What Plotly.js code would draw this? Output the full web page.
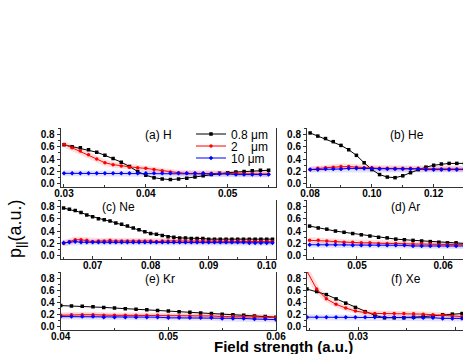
<!DOCTYPE html>
<html><head><meta charset="utf-8">
<script src="https://cdn.plot.ly/plotly-3.0.1.min.js"></script>
<style>html,body{margin:0;padding:0;background:#fff}#chart{width:463px;height:354px}</style>
</head><body><div id="chart"></div>
<script>
// ---- data ----
const seriesNames = ["0.8\u00a0\u03bcm", "2\u00a0\u00a0\u00a0\u00a0\u03bcm", "10\u00a0\u03bcm"];
const panelLabels = ["(a) H", "(b) He", "(c) Ne", "(d) Ar", "(e) Kr", "(f) Xe"];

const xH = [0.030,0.031,0.032,0.033,0.034,0.035,0.036,0.037,0.038,0.039,0.040,0.041,0.042,0.043,0.044,0.045,0.046,0.047,0.048,0.049,0.050,0.051,0.052,0.053,0.054,0.055];
const hBlack = [0.63,0.60,0.58,0.55,0.51,0.46,0.41,0.35,0.28,0.20,0.14,0.10,0.08,0.07,0.08,0.09,0.11,0.13,0.15,0.17,0.18,0.19,0.20,0.21,0.22,0.22];
const hRed   = [0.64,0.58,0.53,0.47,0.40,0.34,0.31,0.29,0.27,0.26,0.25,0.23,0.21,0.19,0.18,0.17,0.17,0.17,0.17,0.17,0.17,0.17,0.16,0.16,0.16,0.16];
const hBlue  = [0.17,0.17,0.17,0.17,0.17,0.17,0.17,0.17,0.17,0.17,0.17,0.17,0.17,0.17,0.17,0.17,0.17,0.17,0.16,0.16,0.16,0.15,0.15,0.15,0.15,0.15];

const xHe = [0.080,0.0825,0.085,0.0875,0.090,0.0925,0.095,0.0975,0.100,0.1025,0.105,0.1075,0.110,0.1125,0.115,0.1175,0.120,0.1225,0.125,0.1275,0.130];
const heBlack = [0.82,0.77,0.73,0.68,0.62,0.55,0.46,0.34,0.23,0.15,0.11,0.10,0.13,0.18,0.23,0.27,0.30,0.32,0.33,0.33,0.33];
const heRed   = [0.23,0.25,0.26,0.27,0.28,0.28,0.27,0.26,0.26,0.25,0.25,0.25,0.25,0.25,0.25,0.24,0.24,0.24,0.24,0.24,0.24];
const heBlue  = [0.23,0.23,0.24,0.24,0.24,0.25,0.25,0.25,0.25,0.24,0.24,0.24,0.24,0.24,0.24,0.23,0.23,0.23,0.23,0.23,0.23];

const xNe = [0.065,0.066,0.067,0.068,0.069,0.070,0.071,0.072,0.073,0.074,0.075,0.076,0.077,0.078,0.079,0.080,0.081,0.082,0.083,0.084,0.085,0.086,0.087,0.088,0.089,0.090,0.091,0.092,0.093,0.094,0.095,0.096,0.097,0.098,0.099,0.100,0.101];
const neBlack = [0.77,0.75,0.73,0.70,0.66,0.63,0.60,0.58,0.56,0.53,0.51,0.48,0.45,0.42,0.39,0.36,0.35,0.33,0.31,0.30,0.29,0.29,0.28,0.28,0.28,0.27,0.27,0.27,0.27,0.27,0.27,0.27,0.27,0.27,0.27,0.27,0.27];
const neRed   = [0.20,0.23,0.26,0.26,0.25,0.23,0.24,0.24,0.25,0.24,0.24,0.24,0.24,0.24,0.24,0.24,0.23,0.24,0.24,0.24,0.24,0.24,0.23,0.24,0.24,0.23,0.24,0.23,0.24,0.23,0.24,0.23,0.24,0.23,0.23,0.23,0.23];
const neBlue  = [0.21,0.22,0.23,0.22,0.22,0.22,0.22,0.22,0.22,0.22,0.22,0.22,0.22,0.22,0.22,0.22,0.22,0.22,0.22,0.22,0.22,0.22,0.22,0.22,0.22,0.22,0.22,0.22,0.22,0.22,0.22,0.22,0.21,0.21,0.21,0.21,0.21];

const xAr = [0.0445,0.0455,0.0465,0.0475,0.0485,0.0495,0.0505,0.0515,0.0525,0.0535,0.0545,0.0555,0.0565,0.0575,0.0585,0.0595,0.0605,0.0615,0.0625];
const arBlack = [0.48,0.45,0.43,0.40,0.38,0.36,0.34,0.32,0.30,0.29,0.27,0.26,0.25,0.24,0.23,0.22,0.21,0.21,0.20];
const arRed   = [0.25,0.25,0.24,0.23,0.22,0.22,0.21,0.21,0.20,0.20,0.20,0.19,0.19,0.19,0.19,0.18,0.18,0.18,0.18];
const arBlue  = [0.18,0.18,0.18,0.18,0.18,0.17,0.17,0.17,0.17,0.17,0.17,0.17,0.16,0.16,0.16,0.16,0.16,0.16,0.16];

const xKr = [0.040,0.041,0.042,0.043,0.044,0.045,0.046,0.047,0.048,0.049,0.050,0.051,0.052,0.053,0.054,0.055,0.056,0.057,0.058,0.059,0.060];
const krBlack = [0.35,0.345,0.34,0.33,0.32,0.31,0.30,0.29,0.28,0.27,0.26,0.25,0.24,0.23,0.22,0.21,0.20,0.19,0.18,0.17,0.16];
const krRed   = [0.19,0.20,0.20,0.20,0.19,0.19,0.19,0.19,0.19,0.19,0.18,0.18,0.18,0.18,0.18,0.17,0.17,0.17,0.17,0.16,0.15];
const krBlue  = [0.17,0.17,0.17,0.17,0.16,0.16,0.16,0.16,0.16,0.16,0.15,0.15,0.15,0.15,0.15,0.14,0.14,0.14,0.13,0.13,0.12];

const xXe = [0.0247,0.0257,0.0267,0.0277,0.0287,0.0297,0.0307,0.0317,0.0327,0.0337,0.0347,0.0357,0.0367,0.0377,0.0387,0.0397,0.0407];
const xeBlack = [0.62,0.58,0.53,0.46,0.39,0.32,0.25,0.19,0.15,0.15,0.15,0.16,0.17,0.18,0.20,0.21,0.22];
const xeRed   = [0.91,0.62,0.46,0.37,0.31,0.26,0.235,0.22,0.22,0.22,0.22,0.215,0.21,0.20,0.19,0.18,0.17];
const xeBlue  = [0.16,0.16,0.16,0.16,0.16,0.16,0.16,0.16,0.16,0.16,0.15,0.15,0.15,0.15,0.14,0.14,0.14];

// ---- build ----
const panels = [
  {x:xH,  s:[hBlack,hRed,hBlue]},
  {x:xHe, s:[heBlack,heRed,heBlue]},
  {x:xNe, s:[neBlack,neRed,neBlue]},
  {x:xAr, s:[arBlack,arRed,arBlue]},
  {x:xKr, s:[krBlack,krRed,krBlue]},
  {x:xXe, s:[xeBlack,xeRed,xeBlue]}
];
const colors = ["#000000","#ff0000","#0000ff"];
const bands = [null,"rgba(255,0,0,0.13)","rgba(0,0,255,0.11)"];
const symbols = ["square","circle","diamond"];
const legendIds = ["legend","legend2","legend3"];
const traces = [];
panels.forEach((p,i)=>{
  const xa = i===0 ? "x" : "x"+(i+1);
  const ya = i===0 ? "y" : "y"+(i+1);
  p.s.forEach((vals,k)=>{
    if (bands[k]) traces.push({x:p.x,y:vals,xaxis:xa,yaxis:ya,mode:"lines",
      line:{color:bands[k],width:6},showlegend:false,hoverinfo:"skip"});
  });
  p.s.forEach((vals,k)=>{
    traces.push({x:p.x,y:vals,xaxis:xa,yaxis:ya,mode:"lines+markers",name:seriesNames[k],
      legend:legendIds[k],
      line:{color:colors[k],width:1},marker:{color:colors[k],symbol:symbols[k],size:3.5},
      showlegend:i===0});
  });
});

const W=463,H=354;
const colX = [[60.7/W,276/W],[307/W,1]];
const rowY = [[1-187/H,1-128/H],[1-259/H,1-200/H],[1-330/H,1-272/H]];
const xRanges = [[0.0296,0.0559],[0.079,0.1295],[0.0645,0.1016],[0.0442,0.0623],[0.04,0.06],[0.0247,0.0408]];
const xDticks = [0.01,0.02,0.01,0.01,0.01,0.01];
const font = "Arial, 'Liberation Sans', sans-serif";
const legRowY = [134,146,158];
const layout = {
  width:W,height:H,margin:{l:0,r:0,t:0,b:0},paper_bgcolor:"#fff",plot_bgcolor:"#fff",
  font:{family:font,color:"#000",size:10},
  showlegend:true,
  annotations:[],
};
legendIds.forEach((id,k)=>{
  layout[id] = {x:191/W,y:1-legRowY[k]/H,xanchor:"left",yanchor:"middle",bgcolor:"rgba(0,0,0,0)",
    font:{size:12,family:font},itemwidth:30,tracegroupgap:0};
});
for (let i=0;i<6;i++){
  const col=i%2,row=Math.floor(i/2);
  const sx = i===0?"":String(i+1);
  layout["xaxis"+sx] = {domain:colX[col],range:xRanges[i],anchor:"y"+sx,
    showline:true,linecolor:"#333",linewidth:1,mirror:false,showgrid:false,zeroline:false,
    ticks:"inside",ticklen:3,tickcolor:"#333",dtick:xDticks[i],tickformat:".2f",
    ticklabelstandoff:-3,
    tickfont:{size:10,weight:"bold"},minor:{ticks:"inside",ticklen:2,dtick:xDticks[i]/2,tickcolor:"#333"}};
  layout["yaxis"+sx] = {domain:rowY[row],range:[-0.05,0.9],anchor:"x"+sx,
    showline:true,linecolor:"#333",linewidth:1,mirror:true,showgrid:false,zeroline:false,
    ticks:"outside",ticklen:3,tickcolor:"#333",tickvals:[0,0.2,0.4,0.6,0.8],tickformat:".1f",
    tickfont:{size:10,weight:"bold"},minor:{ticks:"outside",ticklen:2,dtick:0.1,tickcolor:"#333"}};
  const lx = [0.455,0.64,0.27,0.63,0.46,0.635][i];
  layout.annotations.push({text:panelLabels[i],xref:"x"+sx+" domain",yref:"y"+sx+" domain",
    x:lx,y:0.88,xanchor:"center",yanchor:"middle",showarrow:false,font:{size:12,family:font}});
}
layout.annotations.push({text:"Field strength (a.u.)",xref:"paper",yref:"paper",x:283/W,y:1-346/H,
  xanchor:"center",yanchor:"middle",showarrow:false,borderpad:0,font:{size:15,family:font,weight:"bold"}});
layout.annotations.push({text:"p<sub>||</sub>(a.u.)",xref:"paper",yref:"paper",x:16/W,y:1-229/H,
  xanchor:"center",yanchor:"middle",textangle:-90,showarrow:false,font:{size:18,family:font}});

Plotly.newPlot("chart",traces,layout,{displayModeBar:false,staticPlot:true});
</script></body></html>
